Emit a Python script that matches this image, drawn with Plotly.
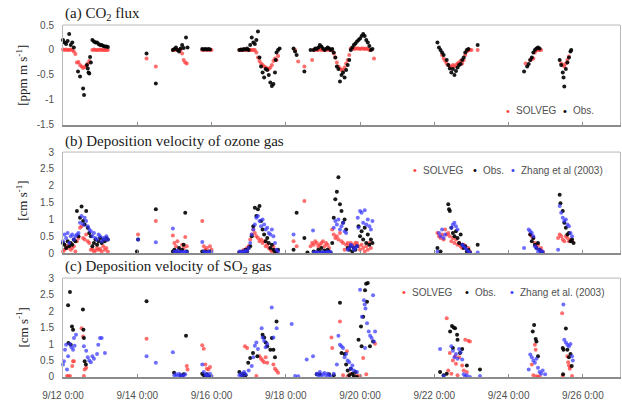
import pandas as pd
import plotly.graph_objects as go
from plotly.subplots import make_subplots

BASE = pd.Timestamp("2003-09-12 00:00")

# ---------------- Panel (a): CO2 flux [ppm m s-1] ----------------
a_sol_h = [0,1,2,3,4,5,6,7,8,9,10,11,12,13,14,15,16,17,
           19,20,21,22,23,24,25,26,27,28,29,
           54,60,
           71,72,73,74,75,76,77,78,79,80,
           90,91,92,93,94,95,96,
           114,115,116,117,118,119,120,121,122,123,124,125,126,127,128,129,130,131,132,133,134,135,136,137,138,139,
           150,152,156,161,
           162,163,164,165,166,167,168,169,170,171,172,173,174,
           175,176,177,178,179,180,181,182,183,184,185,
           186,187,188,189,190,191,192,193,194,195,196,197,198,199,201,
           245,246,247,248,249,250,251,252,253,254,255,256,257,258,259,260,261,262,263,264,268,
           299,302,303,304,305,306,307,308,309,
           322,323,324,325,326,327]
a_sol_v = [0.01,0,0.01,0,0,0.01,0,-0.03,-0.08,-0.25,-0.24,-0.3,-0.33,-0.36,-0.34,-0.31,-0.27,-0.22,
           0,0.01,0,0,0,0.01,0,0,0,0,0,
           -0.17,-0.33,
           0,0,0.01,0,0,0,-0.07,-0.2,-0.25,-0.27,
           0,0,0.01,0,0,0.01,0,
           0,0,0.01,0,0,0,0,0,0,0,0,-0.05,-0.15,-0.22,-0.27,-0.3,-0.33,-0.35,-0.37,-0.38,-0.35,-0.3,-0.22,-0.17,-0.2,-0.12,
           0.0,-0.23,-0.33,-0.2,
           0,0.01,0,0,0.02,0,0.01,0,0,0.01,0,0,0,
           -0.07,-0.15,-0.25,-0.33,-0.37,-0.4,-0.4,-0.35,-0.27,-0.2,-0.1,
           0.03,0.03,0.02,0.03,0.03,0.03,0.02,0.03,0.03,0.02,0.03,0.02,0.0,0.0,-0.17,
           -0.1,-0.17,-0.22,-0.27,-0.3,-0.33,-0.33,-0.3,-0.33,-0.3,-0.27,-0.25,-0.22,-0.27,-0.2,-0.1,-0.03,0,0,0,0.0,
           -0.27,-0.2,-0.18,-0.17,-0.05,0,0,0,0,
           -0.27,-0.3,-0.33,-0.27,-0.2,-0.13]

a_obs_h = [0,1,2,3,4,5,6,7,
           9.7,11,13,13.6,15.5,16,16.5,17,17.5,18,
           19,20,21,22,23,24,25,26,27,28,29,
           54,60,
           71,72,73,74,75,76,77,78,79.5,80.5,
           90,91,92,93,94,95,
           114,115,116,117,118,119,120,121,122,123,124,125,126,127,128,129,130,131,132,133,134,135,136,137,137.5,138,139,140,
           149,150,151,156,160,
           162,163,164,165,166,167,168,169,170,171,172,173,174,
           175,176,177,178,179,180,181,182,183,184,185,
           186,187,188,189,190,191,192,193,194,195,196,197,198,199,200,
           242,243,244,245,246,248,249,250,251,252,253,254,255,256,257,258,259,260,261,262,268,
           298,300,301,302,303,304,305,306,307,308,
           321,322,323,323.5,324,325,326,327,328,328.5]
a_obs_v = [0.2,0.15,0.12,0.18,0.32,0.1,0.15,0.05,
           -0.43,-0.53,-0.77,-0.9,-0.3,-0.37,-0.45,-0.47,-0.14,-0.25,
           0.2,0.17,0.15,0.15,0.12,0.1,0.1,0.08,0.07,0.07,0.06,
           -0.07,-0.67,
           0.0,0.02,0.05,0.0,-0.03,0.03,0.1,0.04,0.25,0.05,
           0.02,0.01,0.02,0.01,0.02,0.01,
           0,0.01,0,0.02,0.01,0.03,0.0,0.1,0.25,0.15,0.12,0.2,0.37,-0.15,-0.33,-0.45,-0.55,-0.38,-0.4,-0.5,-0.65,-0.72,-0.68,-0.45,-0.2,-0.05,0.0,0.03,
           0.03,-0.03,-0.1,-0.43,0.0,
           0.0,0.03,0.02,0.05,0.1,0.07,0.03,0.0,0.02,0.05,0.03,0.0,0.02,
           -0.05,-0.15,-0.33,-0.38,-0.63,-0.5,-0.45,-0.55,-0.4,-0.3,-0.2,
           0.0,0.05,0.1,0.13,0.17,0.2,0.23,0.28,0.32,0.28,0.2,0.15,0.08,0.0,0.02,
           0.15,0.05,0.0,-0.05,-0.1,-0.2,-0.3,-0.37,-0.45,-0.38,-0.5,-0.42,-0.35,-0.3,-0.28,-0.2,-0.15,-0.05,0.0,0.02,0.1,
           -0.43,-0.33,-0.28,-0.2,-0.15,-0.05,0.0,0.03,0.05,0.03,
           -0.2,-0.3,-0.45,-0.55,-0.73,-0.38,-0.25,-0.15,-0.03,0.0]

# ---------------- Panel (b): ozone deposition velocity [cm s-1] ----------------
b_sol_h = [0,1,2,3,4,5,6,7,8,
           9,10,11,12,13,14,15,16,17,
           18,19,20,21,22,23,24,25,26,27,28,29,
           48.5,60,
           71,72,73,74,75,76,77,78,79,80,
           90,91,92,93,94,95,96,
           114,115,116,117,118,119,120,121,122,123,124,125,126,127,128,
           129,130,131,132,133,134,135,136,137,138,
           149,151,156,
           160,161,162,163,164,165,166,167,168,169,170,171,172,
           174,175,176,177,178,179,180,181,182,
           183,184,185,186,187,188,189,
           190,191,192,193,194,195,196,197,198,199,
           242,243,244,245,246,247,248,249,250,251,252,253,254,255,256,257,258,259,260,261,262,263,
           302,303,304,305,306,307,308,309,310,
           320,321,322,323,324,325,326,327,328,329]
b_sol_v = [0.05,0.1,0.2,0.15,0.25,0.1,0.15,0.2,0.05,
           0.35,0.45,0.75,0.8,0.45,0.4,0.55,0.35,0.3,
           0.1,0.12,0.05,0.08,0.15,0.1,0.12,0.05,0.2,0.1,0.15,0.05,
           0.55,0.95,
           0.52,0.3,0.2,0.35,0.1,0.05,0.25,0.15,0.48,0.2,
           0.95,0.2,0.1,0.15,0.05,0.2,0.1,
           0.02,0.05,0.0,0.1,0.05,0.15,0.2,0.4,0.55,0.7,0.6,0.5,0.45,0.35,0.4,
           0.3,0.35,0.2,0.25,0.15,0.1,0.05,0.2,0.1,0.02,
           0.35,0.2,1.55,
           0.2,0.3,0.25,0.35,0.3,0.2,0.25,0.3,0.35,0.2,0.3,0.25,0.15,
           0.7,0.55,0.45,0.5,0.4,0.6,0.35,0.3,0.1,
           0.25,0.3,0.2,0.3,0.25,0.2,0.3,
           0.3,0.2,0.1,0.25,0.15,0.05,0.2,0.1,0.3,0.15,
           0.6,0.5,0.45,0.55,0.4,0.7,0.55,0.6,0.5,0.35,0.45,0.3,0.4,0.25,0.3,0.2,0.15,0.25,0.2,0.1,0.15,0.05,
           0.55,0.5,0.45,0.3,0.2,0.25,0.1,0.15,0.05,
           0.45,0.55,0.5,0.4,0.35,0.5,0.45,0.35,0.4,0.35]

b_obs_h = [0,1,2,3,4,5,6,7,8,
           9,10,11,12,13,14,15,16,17,
           18,19,20,21,22,23,24,25,26,27,28,29,
           47.8,48.5,60,
           71,72,73,74,75,76,77,78,79,80,
           90,91,92,93,94,95,
           114,115,116,117,118,119,120,121,122,123,124,125,126,127,128,
           129,130,131,132,133,134,135,136,137,138,139,
           149,151,156,158,
           162,163,164,165,166,167,168,169,170,171,172,173,
           174,175,176,177,178,179,180,181,182,183,
           184,185,186,187,188,189,190,
           191,192,193,194,195,196,197,198,199,200,
           242,244,249,249.5,250,251,252,253,254,255,256,257,258,259,260,261,262,263,268,
           302,303,304,305,306,307,308,309,310,
           321,321.5,323,324,325,326,327,328,329,330]
b_obs_v = [0.3,0.25,0.15,0.35,0.2,0.3,0.25,0.4,0.35,
           1.25,0.5,1.05,1.38,0.95,0.85,1.25,0.75,0.6,
           0.5,0.2,0.3,0.4,0.25,0.35,0.45,0.3,0.4,0.35,0.45,0.4,
           0.05,0.4,1.3,
           0.05,0.1,0.05,0.0,0.15,0.05,0.1,0.25,1.2,0.05,
           0.05,0.0,0.05,0.02,0.0,0.05,
           0.02,0.0,0.05,0.02,0.1,0.05,0.15,0.2,0.5,0.8,1.35,1.1,1.3,1.4,0.95,
           0.7,0.55,0.35,0.45,0.3,0.15,0.25,0.1,0.05,0.0,0.1,
           0.1,1.2,0.45,0.02,
           0.05,0.02,0.0,0.1,0.05,0.15,0.0,0.08,0.02,0.1,0.05,0.0,
           0.3,1.05,1.6,1.82,2.25,1.45,1.25,0.9,1.0,0.7,
           0.15,0.1,0.2,0.05,0.15,0.1,0.2,
           0.8,0.5,0.65,0.4,0.75,0.3,0.55,0.25,0.4,0.3,
           0.15,0.05,1.45,1.3,1.25,0.75,0.6,0.5,0.65,0.45,0.3,0.55,0.25,0.15,0.2,0.05,0.1,0.02,0.25,
           0.55,0.35,0.45,0.25,0.15,0.3,0.1,0.05,0.0,
           1.73,1.48,1.25,0.9,0.75,0.55,0.6,0.35,0.4,0.3]

b_zh_h = [0,1,2,3,4,5,6,7,8,
          9,10,11,12,13,14,15,16,17,
          18,19,20,21,22,23,24,25,26,27,28,29,
          48.5,60,
          71,72,73,74,75,76,77,78,79,80,
          90,91,92,93,94,95,96,
          114,115,116,117,118,119,120,121,122,123,124,125,126,127,128,
          129,130,131,132,133,134,135,136,137,138,139,
          149,161.6,
          162,163,164,165,166,167,168,169,170,171,172,173,
          175,176,177,178,179,180,181,182,183,
          184,185,186,187,188,189,190,
          190.5,191,192,193,194,195,196,197,198,199,200,
          242,243,244,245,246,247,251,252,253,254,255,258,259,260,261,262,263,268,
          298,301,302,303,304,305,306,307,308,309,310,
          320,321,322,323,324,325,326,327,328,329]
b_zh_v = [0.35,0.55,0.45,0.6,0.3,0.5,0.55,0.4,0.5,
          0.55,0.6,0.9,1.1,0.85,1.05,0.95,0.8,0.7,
          0.65,0.5,0.6,0.45,0.4,0.55,0.5,0.35,0.45,0.4,0.5,0.4,
          0.4,0.32,
          0.73,0.05,0.02,0.08,0.0,0.05,0.02,0.03,0.05,0.02,
          0.33,0.05,0.02,0.0,0.05,0.02,0.03,
          0.05,0.02,0.05,0.03,0.08,0.05,0.15,0.3,0.55,0.7,0.85,1.05,1.1,0.95,0.8,
          1.0,0.85,0.7,0.75,0.6,0.55,0.7,0.5,0.3,0.1,0.05,
          0.55,0.67,
          0.02,0.0,0.03,0.01,0.02,0.0,0.03,0.02,0.01,0.05,0.02,0.03,
          0.75,0.95,0.85,1.0,0.7,0.8,0.9,0.65,0.6,
          0.1,0.15,0.25,0.2,0.1,0.15,0.2,
          1.05,0.75,1.25,1.2,0.9,1.27,0.85,1.0,0.8,0.7,0.95,
          0.05,0.6,0.5,0.7,0.45,0.55,0.75,0.85,0.9,0.8,0.7,0.25,0.2,0.15,0.1,0.05,0.02,0.02,
          0.15,0.7,0.65,0.6,0.5,0.2,0.15,0.05,0.1,0.02,0.05,
          0.1,1.4,1.2,1.05,0.95,1.0,0.85,0.8,0.6,0.5]

# ---------------- Panel (c): SO2 deposition velocity [cm s-1] ----------------
c_sol_h = [2.6,3.5,4.5,6,6.5,7,12,13,13.5,14,15,
           54,
           80,80.5,
           90,91,92,93,94,95,
           117.6,119,125,127,128,129,130,131,132,136,137,138,139,
           173.5,174,179,183.5,181,184,186,188,190,192,194,196,201.7,
           248,249,250,251,252,253.4,254,255,256,258,259,260,261,262,263,
           303,304,305,305.5,306,307,308,
           322.6,323,326,326.5,327,327.5,328,329]
c_sol_v = [0.03,0.02,0.03,0.33,0.48,0.48,1.48,1.23,0.03,0.23,0.28,
           1.16,
           0.33,0.23,
           0.96,0.86,0.38,0.25,0.23,0.3,
           0.93,0.88,0.03,0.63,0.55,0.5,0.45,0.6,0.43,0.38,0.25,0.2,0.13,
           1.2,0.88,1.68,0.78,0.05,0.02,0.1,0.0,0.05,0.03,0.58,0.08,1.01,
           1.78,0.2,0.73,0.1,0.5,0.63,0.4,0.05,0.6,0.35,0.2,1.13,0.15,1.1,1.08,
           0.38,0.05,0.98,0.83,0.02,0.0,0.02,
           1.93,0.03,0.63,0.45,0.35,0.25,0.3,0.03]

c_obs_h = [3.3,3.5,4.5,5,5.8,6.5,12.9,13.2,13.5,14,14.8,
           54,
           71.8,76,77,78,79.5,
           90,91,92,93,94,95,
           114,115,116,117,118,119.7,121,122.8,125.6,129,130,131,132,134,135,136,137,138,
           164,166,172,175,
           179,180,182,183,184,185,186,187,188,189,190,191,192.6,193,194,195.2,195.9,196.5,197,198.4,200.4,
           243.7,246,248,250.2,251.4,252,252.5,253.4,254.7,255,256.6,258,261,269.5,
           303.6,304.5,305.5,306,307,
           323,323.2,323.5,325,326,327,328,328.8]
c_obs_v = [2.18,1.03,2.58,0.98,1.53,1.43,2.05,1.43,1.18,0.48,0.38,
           2.3,
           0.13,0.05,0.03,0.08,1.25,
           0.1,0.05,0.02,0.08,0.03,0.0,
           0.15,0.08,0.03,0.1,0.05,0.43,0.58,0.73,0.63,1.28,1.2,1.05,0.93,0.83,1.18,0.83,0.6,1.68,
           0.08,0.08,0.08,0.05,
           2.25,0.73,0.7,0.38,0.2,0.05,0.25,0.1,0.03,0.15,0.0,1.13,1.53,0.93,1.83,2.63,2.83,2.28,2.85,0.93,1.08,
           0.15,0.05,0.1,1.38,1.55,0.88,1.5,1.48,1.28,1.13,0.73,0.85,0.35,0.23,
           1.38,1.58,1.15,1.08,0.63,
           0.88,0.08,0.83,1.47,0.83,0.6,0.7,0.33]

c_zh_h = [0,0.6,1.3,2,2.6,3.3,4.5,5.5,6.5,7.1,7.5,8.4,
          13.5,15,16,17,18,19,20,22,22.8,23.9,25,27.1,
          54,60,
          71,72,73,74,75,76,77,78,79,
          90,91,92,93,94,95,96,
          114,115,116,117,118,120,122,123,124,125,126,128.4,129,130,131,132,134.9,136,138.1,
          147.8,150,152,157.5,161.6,
          164,165,166,167,168,169,170,171,172,173,175,
          177,178,179,180,181,182,183,184,185,186,187,188,190,
          192,193.2,194.5,195,195.2,195.5,196.5,197.6,198.5,199.5,200.4,201,201.7,
          243.7,246,251,252,253,254,255,256,257,258,259,260,261,263,269.5,
          301,302,303,304,305,306,307,308,309,310,311.6,
          323.4,324,325,326,327,328,329,329.5]
c_zh_v = [0.38,0.48,0.83,0.98,0.23,0.63,1.0,0.9,0.83,1.18,0.95,1.28,
          0.93,0.8,0.6,0.5,0.45,0.63,0.55,0.7,0.98,1.18,1.18,0.73,
          0.63,0.43,
          0.75,0.05,0.08,0.02,0.1,0.03,0.05,0.0,0.08,
          0.38,0.15,0.05,0.08,0.02,0.1,0.03,
          0.05,0.1,0.02,0.15,0.08,0.2,0.33,0.6,0.95,1.05,0.85,1.48,1.2,1.1,0.9,1.0,2.11,1.2,1.48,
          1.61,0.03,0.02,0.53,0.63,
          0.1,0.05,0.15,0.02,0.08,0.12,0.03,0.1,0.05,0.0,0.1,
          0.38,1.25,0.98,0.93,0.88,0.6,0.7,0.5,0.45,0.25,0.35,0.2,0.15,
          2.65,1.83,2.33,2.2,0.88,2.08,1.63,1.38,1.25,1.18,2.48,1.08,1.38,
          0.85,0.03,0.93,0.8,0.6,0.7,0.55,0.85,0.75,0.53,0.08,0.02,0.05,0.0,0.03,
          0.23,0.68,0.6,0.5,0.43,0.55,0.28,0.15,0.1,0.2,0.08,
          2.2,1.13,1.05,0.98,0.93,1.0,0.63,0.5]

X_TICKS = ["2003-09-12", "2003-09-14", "2003-09-16", "2003-09-18",
           "2003-09-20", "2003-09-22", "2003-09-24", "2003-09-26"]
X_TICK_TEXT = ["9/12 0:00", "9/14 0:00", "9/16 0:00", "9/18 0:00",
               "9/20 0:00", "9/22 0:00", "9/24 0:00", "9/26 0:00"]


def to_dt(hours):
    return [BASE + pd.Timedelta(hours=h) for h in hours]


RED = "rgba(255,60,60,0.75)"
BLACK = "rgba(0,0,0,0.9)"
BLUE = "rgba(50,50,255,0.7)"

fig = make_subplots(rows=3, cols=1, shared_xaxes=False, vertical_spacing=0.0)

panels = [
    (1, [(a_sol_h, a_sol_v, RED, "SOLVEG"), (a_obs_h, a_obs_v, BLACK, "Obs.")]),
    (2, [(b_sol_h, b_sol_v, RED, "SOLVEG"), (b_obs_h, b_obs_v, BLACK, "Obs."),
         (b_zh_h, b_zh_v, BLUE, "Zhang et al (2003)")]),
    (3, [(c_sol_h, c_sol_v, RED, "SOLVEG"), (c_obs_h, c_obs_v, BLACK, "Obs."),
         (c_zh_h, c_zh_v, BLUE, "Zhang et al. (2003)")]),
]
for row, series in panels:
    for h, v, col, name in series:
        fig.add_trace(go.Scatter(x=to_dt(h), y=v, mode="markers", name=name,
                                 marker=dict(color=col, size=4, line=dict(width=0)),
                                 showlegend=False, cliponaxis=False), row=row, col=1)

# panel geometry (paper coordinates); plot area spans px 63..620 horizontally, 25..377 vertically
domains = {1: [0.716, 1.0], 2: [0.352, 0.639], 3: [0.0, 0.281]}
yranges = {1: [-1.5, 0.5], 2: [0, 3], 3: [0, 3]}
ytickvals = {1: [-1.5, -1, -0.5, 0, 0.5], 2: [0, 0.5, 1, 1.5, 2, 2.5, 3], 3: [0, 0.5, 1, 1.5, 2, 2.5, 3]}
yticktext = {1: ["-1.5", "-1", "-0.5", "0", "0.5"],
             2: ["0", "0.5", "1", "1.5", "2", "2.5", "3"],
             3: ["0", "0.5", "1", "1.5", "2", "2.5", "3"]}

TICKFONT = dict(family="Liberation Sans, Arial, sans-serif", size=10, color="#505050")
for row in (1, 2, 3):
    fig.update_yaxes(row=row, col=1, domain=domains[row], range=yranges[row],
                     tickvals=ytickvals[row], ticktext=yticktext[row],
                     showgrid=False, zeroline=False, showline=True, mirror=True,
                     linecolor="#b8b8b8", linewidth=1, ticks="", tickfont=TICKFONT,
                     automargin=False, ticklabelstandoff=6)
    fig.update_xaxes(row=row, col=1, type="date", domain=[0, 1],
                     range=["2003-09-12 00:00", "2003-09-27 00:00"],
                     tickvals=X_TICKS, ticktext=X_TICK_TEXT,
                     showticklabels=(row == 3), automargin=False,
                     showgrid=False, zeroline=False, showline=True, mirror=False,
                     linecolor="#8c8c8c", linewidth=2, ticks="inside", ticklen=3,
                     tickcolor="#8c8c8c", tickfont=TICKFONT, ticklabelstandoff=8)
    yref = "y domain" if row == 1 else f"y{row} domain"
    xref = "x domain" if row == 1 else f"x{row} domain"
    fig.add_shape(type="line", xref=xref, yref=yref, x0=0, x1=1, y0=1, y1=1,
                  line=dict(color="#b8b8b8", width=1))

SERIF = "Liberation Serif, Times New Roman, serif"
titles = [("(a) CO<sub>2</sub> flux", 1.0),
          ("(b) Deposition velocity of ozone gas", 0.639),
          ("(c) Deposition velocity of SO<sub>2</sub> gas", 0.281)]
for text, ytop in titles:
    fig.add_annotation(text=text, xref="paper", yref="paper", x=0.0, y=ytop,
                       xanchor="left", yanchor="bottom", yshift=0, showarrow=False,
                       font=dict(family=SERIF, size=15, color="#202020"))

ylabels = [("[ppm m s<sup>-1</sup>]", 0.858), ("[cm s<sup>-1</sup>]", 0.50), ("[cm s<sup>-1</sup>]", 0.14)]
for text, yc in ylabels:
    fig.add_annotation(text=text, xref="paper", yref="paper", x=-0.074, y=yc,
                       xanchor="center", yanchor="middle", textangle=-90, showarrow=False,
                       font=dict(family=SERIF, size=13, color="#202020"))

LEGFONT = dict(family="Liberation Sans, Arial, sans-serif", size=10, color="#505050")


def px_x(px):
    return (px - 63) / 557.0


def px_y(py):
    return (377 - py) / 352.0


legend_items = [
    # (dot x px, text x px, y px, colour, label)
    (508, 514, 111, "#ff4040", "SOLVEG"),
    (565, 571, 111, "#000000", "Obs."),
    (415, 421, 170, "#ff4040", "SOLVEG"),
    (475, 481, 170, "#000000", "Obs."),
    (513, 519, 170, "#3b3bff", "Zhang et al (2003)"),
    (404, 410, 292, "#ff4040", "SOLVEG"),
    (467, 473, 292, "#000000", "Obs."),
    (512, 518, 292, "#3b3bff", "Zhang et al. (2003)"),
]
for dx, tx, ty, colr, label in legend_items:
    fig.add_annotation(text="•", xref="paper", yref="paper", x=px_x(dx), y=px_y(ty),
                       xanchor="center", yanchor="middle", showarrow=False,
                       font=dict(family="Liberation Sans, Arial, sans-serif", size=11, color=colr))
    fig.add_annotation(text=label, xref="paper", yref="paper", x=px_x(tx), y=px_y(ty),
                       xanchor="left", yanchor="middle", showarrow=False, font=LEGFONT)

fig.update_layout(width=622, height=403, margin=dict(l=63, r=2, t=25, b=26, autoexpand=False),
                  paper_bgcolor="white", plot_bgcolor="white", showlegend=False)

fig.write_html("out.html", config={"displayModeBar": False},
               post_script="document.body.style.margin='0px';document.body.style.overflow='hidden';")
